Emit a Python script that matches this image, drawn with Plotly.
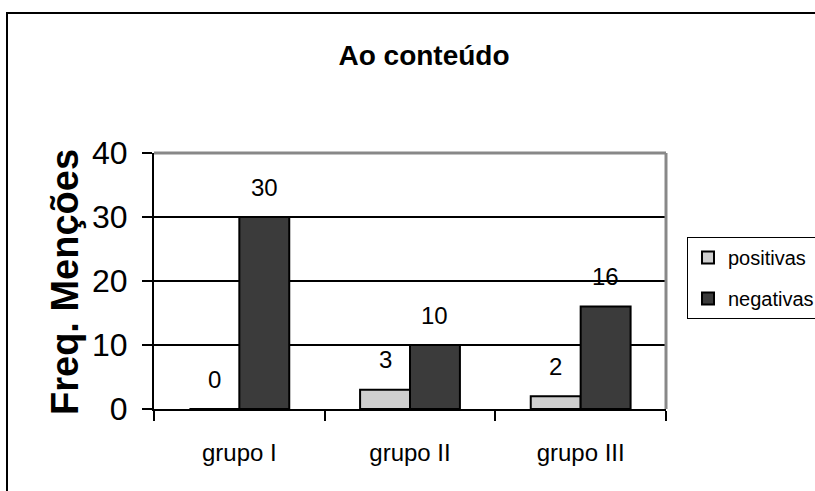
import plotly.graph_objects as go

categories = ["grupo I", "grupo II", "grupo III"]
positivas = [0, 3, 2]
negativas = [30, 10, 16]
series_names = ["positivas", "negativas"]
y_ticks = [0, 10, 20, 30, 40]
title_text = "Ao conteúdo"
y_title = "Freq. Menções"

W, H = 815, 491
L, R, T, B = 154, 149, 153, 82
pw, ph = W - L - R, H - T - B

def px_x(px):
    return (px - L) / pw

def px_y(py):
    return (H - B - py) / ph

FONT = "Liberation Sans, Arial, sans-serif"
BARGAP = 0.415
idx = list(range(len(categories)))

fig = go.Figure()
fig.add_trace(go.Bar(x=idx, y=positivas, name=series_names[0], legendgroup="a",
                     marker=dict(color="#cfcfcf", line=dict(color="black", width=2))))
fig.add_trace(go.Bar(x=idx, y=negativas, name=series_names[1], legendgroup="b",
                     marker=dict(color="#3b3b3b", line=dict(color="black", width=2))))

bw = (1 - BARGAP) / 2
ann = []
for i in idx:
    for off, vals in ((-bw / 2, positivas), (bw / 2, negativas)):
        ann.append(dict(x=i + off, y=vals[i], xref="x", yref="y", text=str(vals[i]),
                        showarrow=False, yanchor="middle", yshift=30,
                        font=dict(family=FONT, size=24, color="black")))
ann.append(dict(x=px_x(65), y=px_y(282), xref="paper", yref="paper", text="<b>" + y_title + "</b>",
                textangle=-90, showarrow=False, xanchor="center", yanchor="middle",
                font=dict(family=FONT, size=38, color="black")))

shapes = [
    dict(type="rect", xref="paper", yref="paper", x0=px_x(7), y0=px_y(520), x1=px_x(850), y1=px_y(13),
         line=dict(color="black", width=2), layer="below"),
    dict(type="line", xref="paper", yref="paper", x0=0, x1=1, y0=1, y1=1,
         line=dict(color="#888888", width=3)),
    dict(type="line", xref="paper", yref="paper", x0=1, x1=1, y0=0, y1=1,
         line=dict(color="#888888", width=3)),
]

fig.update_layout(
    width=W, height=H,
    margin=dict(l=L, r=R, t=T, b=B, autoexpand=False),
    paper_bgcolor="white", plot_bgcolor="white",
    barmode="group", bargap=BARGAP, bargroupgap=0,
    title=dict(text="<b>" + title_text + "</b>", x=px_x(424), xref="paper", xanchor="center",
               y=1 - 55 / H, yref="container", yanchor="middle",
               font=dict(family=FONT, size=28, color="black")),
    legend=dict(x=px_x(687), y=px_y(237), xanchor="left", yanchor="top",
                bordercolor="black", borderwidth=1, bgcolor="white",
                font=dict(family=FONT, size=20, color="black"),
                itemsizing="constant", itemwidth=30, tracegroupgap=12),
    annotations=ann, shapes=shapes,
    xaxis=dict(range=[-0.5, len(categories) - 0.5], tickvals=idx, ticktext=categories,
               ticks="", showgrid=False, zeroline=False,
               showline=True, linecolor="black", linewidth=2,
               ticklabelstandoff=21,
               tickfont=dict(family=FONT, size=24, color="black"),
               minor=dict(tickvals=[i - 0.5 for i in idx] + [idx[-1] + 0.5], ticks="outside",
                          ticklen=10, tickcolor="black", tickwidth=2, showgrid=False)),
    yaxis=dict(range=[0, 40], tickvals=y_ticks, ticks="outside", ticklen=10,
               tickcolor="black", tickwidth=2, showgrid=True, gridcolor="black", gridwidth=1.5,
               zeroline=False, showline=True, linecolor="black", linewidth=2,
               ticklabelstandoff=8,
               tickfont=dict(family=FONT, size=32, color="black")),
    showlegend=True,
)

fig.write_html("out.html")
